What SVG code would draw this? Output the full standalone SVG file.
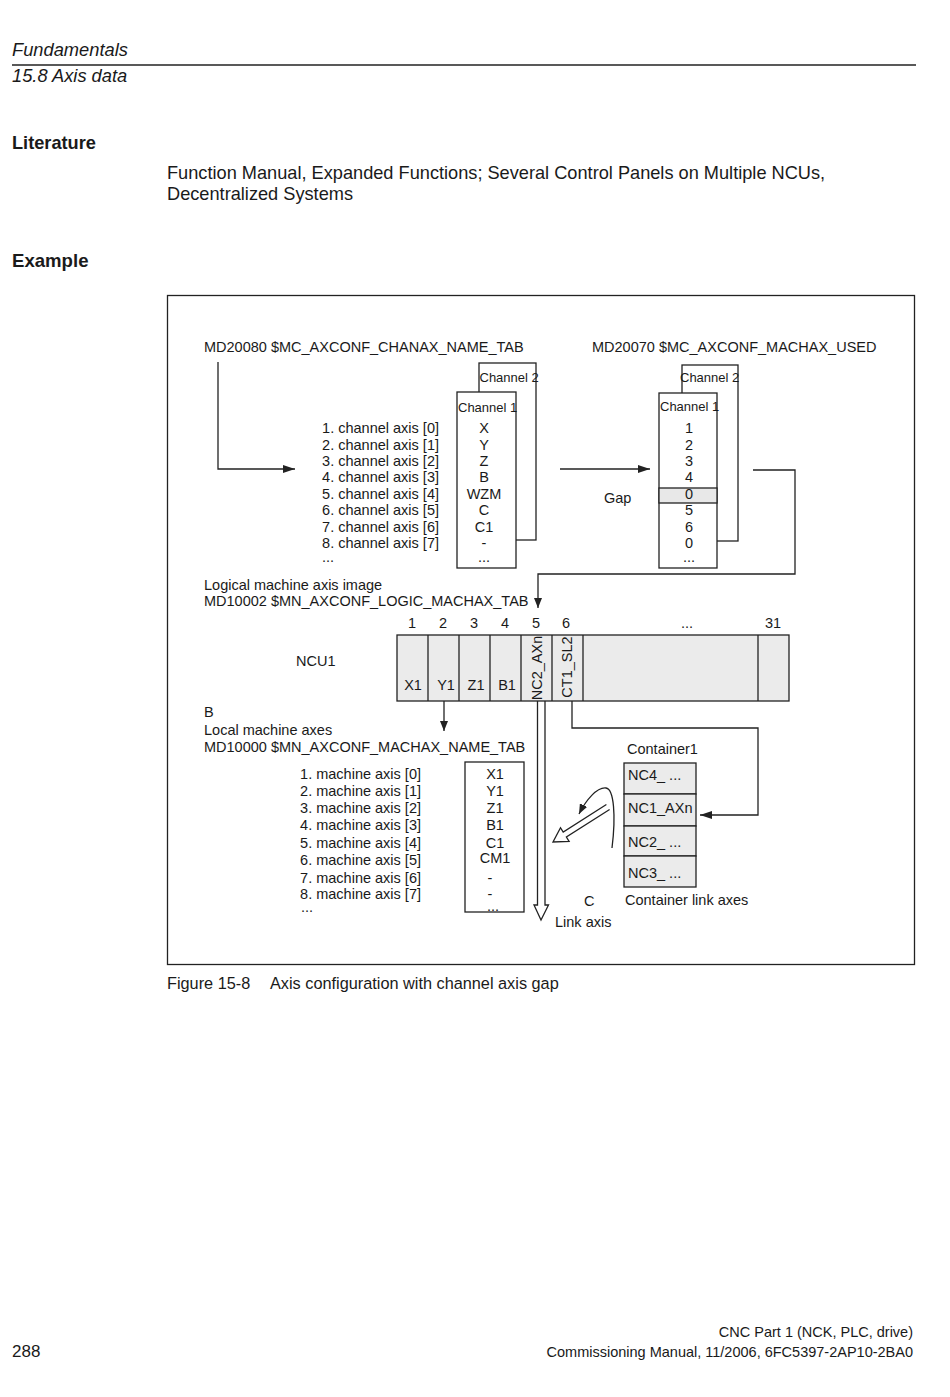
<svg xmlns="http://www.w3.org/2000/svg" width="950" height="1397" viewBox="0 0 950 1397">
<style>
text{font-family:"Liberation Sans",Arial,sans-serif;fill:#1a1a1a}
.d{font-size:14.5px}
.s{font-size:13px}
.e{text-anchor:end}
.m{text-anchor:middle}
.box{fill:#fff;stroke:#222;stroke-width:1.3}
.cell{fill:#ebebeb;stroke:#222;stroke-width:1.3}
.ln{fill:none;stroke:#222;stroke-width:1.3}
</style>
<defs>
<marker id="ah" viewBox="0 0 12 8" refX="12" refY="4" markerWidth="12" markerHeight="8" markerUnits="userSpaceOnUse" orient="auto">
<path d="M0,0 L12,4 L0,8 Z" fill="#222"/>
</marker>
<marker id="ahs" viewBox="0 0 10 8" refX="10" refY="4" markerWidth="10" markerHeight="8" markerUnits="userSpaceOnUse" orient="auto">
<path d="M0,0 L10,4 L0,8 Z" fill="#222"/>
</marker>
</defs>
<rect width="950" height="1397" fill="#fff"/>

<g id="header">
<text x="12" y="56" font-style="italic" font-size="18.3">Fundamentals</text>
<line x1="12" y1="65" x2="916" y2="65" stroke="#222" stroke-width="1.3"/>
<text x="12" y="82" font-style="italic" font-size="18.3">15.8 Axis data</text>
<text x="12" y="149" font-weight="bold" font-size="18.2">Literature</text>
<text x="167" y="179" font-size="18.2">Function Manual, Expanded Functions; Several Control Panels on Multiple NCUs,</text>
<text x="167" y="200" font-size="18.2">Decentralized Systems</text>
<text x="12" y="267" font-weight="bold" font-size="18.6">Example</text>
</g>

<rect id="frame" x="167.5" y="295.5" width="747" height="669" fill="none" stroke="#222" stroke-width="1.3"/>

<g id="chanax-title">
<text class="d" x="204" y="352">MD20080 $MC_AXCONF_CHANAX_NAME_TAB</text>
</g>
<g id="machax-used-title">
<text class="d" x="592" y="352">MD20070 $MC_AXCONF_MACHAX_USED</text>
</g>

<g id="chanax-table">
<rect class="box" x="479" y="363" width="57" height="177"/>
<text class="s" x="479.5" y="382">Channel 2</text>
<rect class="box" x="457" y="392" width="59" height="176"/>
<text class="s" x="458" y="412">Channel 1</text>
<g class="d e">
<text x="439" y="433">1. channel axis [0]</text>
<text x="439" y="450">2. channel axis [1]</text>
<text x="439" y="466">3. channel axis [2]</text>
<text x="439" y="482">4. channel axis [3]</text>
<text x="439" y="499">5. channel axis [4]</text>
<text x="439" y="515">6. channel axis [5]</text>
<text x="439" y="532">7. channel axis [6]</text>
<text x="439" y="548">8. channel axis [7]</text>
</g>
<text class="d" x="322" y="562">...</text>
<g class="d m">
<text x="484" y="433">X</text>
<text x="484" y="450">Y</text>
<text x="484" y="466">Z</text>
<text x="484" y="482">B</text>
<text x="484" y="499">WZM</text>
<text x="484" y="515">C</text>
<text x="484" y="532">C1</text>
<text x="484" y="548">-</text>
<text x="484" y="562">...</text>
</g>
</g>

<g id="machax-used-table">
<rect class="box" x="682" y="365" width="56" height="176"/>
<text class="s" x="680" y="382">Channel 2</text>
<rect class="box" x="659" y="393" width="58" height="175"/>
<rect x="659" y="488" width="58" height="15" fill="#e8e8e8" stroke="#222" stroke-width="1.3"/>
<text class="s" x="660" y="411">Channel 1</text>
<g class="d m">
<text x="689" y="433">1</text>
<text x="689" y="450">2</text>
<text x="689" y="466">3</text>
<text x="689" y="482">4</text>
<text x="689" y="499">0</text>
<text x="689" y="515">5</text>
<text x="689" y="532">6</text>
<text x="689" y="548">0</text>
<text x="689" y="562">...</text>
</g>
<text class="d" x="604" y="503">Gap</text>
</g>

<g id="logic-title">
<text class="d" x="204" y="590">Logical machine axis image</text>
<text class="d" x="204" y="606">MD10002 $MN_AXCONF_LOGIC_MACHAX_TAB</text>
</g>

<g id="ncu1">
<text class="d" x="296" y="666">NCU1</text>
<rect class="cell" x="397" y="635" width="392" height="66"/>
<g class="ln">
<line x1="428" y1="635" x2="428" y2="701"/>
<line x1="459" y1="635" x2="459" y2="701"/>
<line x1="490" y1="635" x2="490" y2="701"/>
<line x1="521" y1="635" x2="521" y2="701"/>
<line x1="552" y1="635" x2="552" y2="701"/>
<line x1="583" y1="635" x2="583" y2="701"/>
<line x1="758" y1="635" x2="758" y2="701"/>
</g>
<g class="d m">
<text x="412" y="628">1</text>
<text x="443" y="628">2</text>
<text x="474" y="628">3</text>
<text x="505" y="628">4</text>
<text x="536" y="628">5</text>
<text x="566" y="628">6</text>
<text x="687" y="628">...</text>
<text x="773" y="628">31</text>
<text x="413" y="690">X1</text>
<text x="446" y="690">Y1</text>
<text x="476" y="690">Z1</text>
<text x="507" y="690">B1</text>
<text transform="translate(541.5,668) rotate(-90)">NC2_AXn</text>
<text transform="translate(572,667) rotate(-90)">CT1_SL2</text>
</g>
</g>

<g id="local-title">
<text class="d" x="204" y="717">B</text>
<text class="d" x="204" y="735">Local machine axes</text>
<text class="d" x="204" y="752">MD10000 $MN_AXCONF_MACHAX_NAME_TAB</text>
</g>

<g id="machax-table">
<rect class="box" x="465" y="762" width="59" height="150"/>
<g class="d e">
<text x="421" y="779">1. machine axis [0]</text>
<text x="421" y="796">2. machine axis [1]</text>
<text x="421" y="813">3. machine axis [2]</text>
<text x="421" y="830">4. machine axis [3]</text>
<text x="421" y="848">5. machine axis [4]</text>
<text x="421" y="865">6. machine axis [5]</text>
<text x="421" y="883">7. machine axis [6]</text>
<text x="421" y="899">8. machine axis [7]</text>
</g>
<text class="d" x="301" y="912">...</text>
<g class="d m">
<text x="495" y="779">X1</text>
<text x="495" y="796">Y1</text>
<text x="495" y="813">Z1</text>
<text x="495" y="830">B1</text>
<text x="495" y="848">C1</text>
<text x="495" y="863">CM1</text>
<text x="490" y="883">-</text>
<text x="490" y="899">-</text>
<text x="493" y="911">...</text>
</g>
</g>

<g id="container1">
<text class="d" x="627" y="754">Container1</text>
<rect class="cell" x="624" y="763" width="72" height="31"/>
<rect class="cell" x="624" y="794" width="72" height="32"/>
<rect class="cell" x="624" y="826" width="72" height="30"/>
<rect class="cell" x="624" y="856" width="72" height="31"/>
<g class="d">
<text x="628" y="780">NC4_ ...</text>
<text x="628" y="813">NC1_AXn</text>
<text x="628" y="847">NC2_ ...</text>
<text x="628" y="878">NC3_ ...</text>
<text x="625" y="905">Container link axes</text>
</g>
</g>

<g id="link-axis">
<text class="d" x="584" y="906">C</text>
<text class="d" x="555" y="927">Link axis</text>
</g>

<g id="connectors">
<path class="ln" d="M218,362 V469 H295" marker-end="url(#ah)"/>
<path class="ln" d="M560,469 H650" marker-end="url(#ah)"/>
<path class="ln" d="M753,470 H795 V574 H538 V608" marker-end="url(#ahs)"/>
<path class="ln" d="M444,701 V731" marker-end="url(#ahs)"/>
<path class="ln" d="M572,701 V728 H758 V815 H700" marker-end="url(#ah)"/>
<path class="ln" d="M537.5,701 V905 H534 L541,920 L548.5,905 H545 V701"/>
<path class="ln" d="M612,848 C616,816 614,789 606,788 C597,787 586,800 579,814" marker-end="url(#ahs)"/>
<path class="ln" d="M609.6,809.5 L566.4,837 L569.1,841.3 L553,842 L560.5,827.7 L563.2,832 L606.4,804.5"/>
</g>

<g id="caption">
<text x="167" y="989" font-size="16.3">Figure 15-8</text>
<text x="270" y="989" font-size="16.3">Axis configuration with channel axis gap</text>
</g>

<g id="footer">
<text x="913" y="1337" font-size="14.5" text-anchor="end">CNC Part 1 (NCK, PLC, drive)</text>
<text x="913" y="1357" font-size="14.5" text-anchor="end">Commissioning Manual, 11/2006, 6FC5397-2AP10-2BA0</text>
<text x="12" y="1357" font-size="17">288</text>
</g>
</svg>
